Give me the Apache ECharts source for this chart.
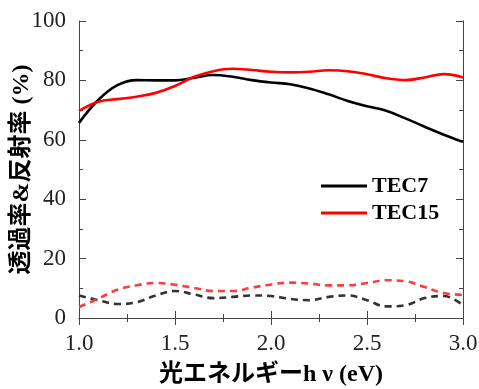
<!DOCTYPE html>
<html lang="ja">
<head>
<meta charset="utf-8">
<title>透過率&反射率</title>
<script src="https://cdn.jsdelivr.net/npm/echarts@6/dist/echarts.min.js"></script>
<style>
  html, body { margin: 0; padding: 0; background: #fff; }
  #chart { width: 479px; height: 389px; }
</style>
</head>
<body>
<div id="chart"></div>
<script>
// photon energy (eV), 0.1 step
var energy = [1.0, 1.1, 1.2, 1.3, 1.4, 1.5, 1.6, 1.7, 1.8, 1.9, 2.0,
              2.1, 2.2, 2.3, 2.4, 2.5, 2.6, 2.7, 2.8, 2.9, 3.0];

// transmittance (solid)
var tec7T  = [65.7, 73.4, 78.4, 80.1, 80.0, 80.0, 80.9, 81.8, 81.2, 80.1, 79.3,
              78.7, 77.3, 75.3, 73.1, 71.3, 69.8, 67.2, 64.4, 61.7, 59.3];
var tec15T = [69.7, 72.8, 73.7, 74.5, 75.8, 78.1, 81.2, 83.1, 83.9, 83.5, 82.9,
              82.7, 82.9, 83.4, 83.1, 82.1, 80.7, 80.1, 81.0, 82.1, 81.0];

// reflectance (dashed)
var tec7R  = [7.6, 6.0, 4.7, 5.3, 7.6, 9.1, 7.9, 6.7, 7.1, 7.6, 7.4,
              6.4, 6.0, 7.1, 7.6, 6.0, 3.9, 4.3, 6.7, 7.4, 4.3];
var tec15R = [3.7, 6.5, 9.5, 11.0, 11.8, 11.2, 10.1, 9.1, 9.1, 10.2, 11.3,
              11.9, 11.6, 11.0, 11.0, 11.8, 12.7, 12.4, 10.4, 8.4, 7.8];

function pairs(ys) {
  return energy.map(function (x, i) { return [x, ys[i]]; });
}

var serif = "'Liberation Serif', 'Times New Roman', serif";
var cjk = "'Liberation Serif', 'Noto Sans CJK JP', serif";

var chart = echarts.init(document.getElementById('chart'));

var tickStyle = { show: true, inside: true, length: 7, lineStyle: { color: '#444', width: 1 } };
var minorStyle = { show: true, splitNumber: 2, length: 4, lineStyle: { color: '#444', width: 1 } };
var lineAx = { show: true, lineStyle: { color: '#444', width: 1 } };

var option = {
  backgroundColor: '#fff',
  animation: false,
  grid: { left: 79, right: 16, top: 21, bottom: 71, outerBoundsMode: 'none', containLabel: false },
  legend: {
    data: ['TEC7', 'TEC15'],
    orient: 'vertical',
    left: 316,
    top: 170,
    itemWidth: 46,
    itemHeight: 3,
    itemGap: 5,
    icon: 'rect',
    textStyle: { fontFamily: serif, fontWeight: 'bold', fontSize: 22, color: '#000' }
  },
  xAxis: [{
    type: 'value',
    min: 1, max: 3, interval: 0.5,
    name: '光エネルギーh ν (eV)',
    nameLocation: 'middle',
    nameGap: 45,
    nameMoveOverlap: false,
    nameTextStyle: { fontFamily: cjk, fontSize: 24, fontWeight: 'bold', color: '#000' },
    axisLine: lineAx,
    axisTick: tickStyle,
    minorTick: minorStyle,
    splitLine: { show: false },
    axisLabel: {
      margin: 14, fontFamily: serif, fontSize: 23, color: '#222',
      formatter: function (v) { return v.toFixed(1); }
    }
  }, {
    type: 'value', position: 'top',
    min: 1, max: 3, interval: 0.5,
    axisLine: lineAx, axisTick: tickStyle, minorTick: minorStyle,
    splitLine: { show: false }, axisLabel: { show: false }
  }],
  yAxis: [{
    type: 'value',
    min: 0, max: 100, interval: 20,
    name: '透過率&反射率 (%)',
    nameLocation: 'middle',
    nameGap: 45,
    nameRotate: 90,
    nameMoveOverlap: false,
    nameTextStyle: { fontFamily: cjk, fontSize: 24, fontWeight: 'bold', color: '#000' },
    axisLine: lineAx,
    axisTick: tickStyle,
    minorTick: minorStyle,
    splitLine: { show: false },
    axisLabel: { margin: 13, fontFamily: serif, fontSize: 23, color: '#222' }
  }, {
    type: 'value', position: 'right',
    min: 0, max: 100, interval: 20,
    axisLine: lineAx, axisTick: tickStyle, minorTick: minorStyle,
    splitLine: { show: false }, axisLabel: { show: false }
  }],
  series: [
    {
      name: 'TEC7', type: 'line', data: pairs(tec7T), smooth: 0.4, showSymbol: false,
      itemStyle: { color: '#000' }, lineStyle: { color: '#000', width: 2.6 }
    },
    {
      name: 'TEC15', type: 'line', data: pairs(tec15T), smooth: 0.4, showSymbol: false,
      itemStyle: { color: '#ff0000' }, lineStyle: { color: '#ff0000', width: 2.6 }
    },
    {
      name: 'TEC7 R', type: 'line', data: pairs(tec7R), smooth: 0.4, showSymbol: false,
      lineStyle: { color: '#333', width: 2.6, type: [7, 5] }
    },
    {
      name: 'TEC15 R', type: 'line', data: pairs(tec15R), smooth: 0.4, showSymbol: false,
      lineStyle: { color: '#ff3b3b', width: 2.6, type: [7, 5] }
    }
  ]
};

chart.setOption(option);
</script>
</body>
</html>
